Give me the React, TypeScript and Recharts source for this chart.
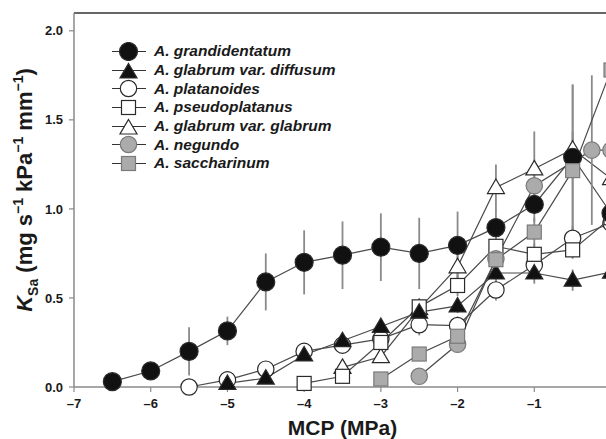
import React from "react";
import {
  ComposedChart,
  Line,
  XAxis,
  YAxis,
  ErrorBar,
  ReferenceLine,
  Legend,
} from "recharts";

const FONT = "'Liberation Sans', Arial, Helvetica, sans-serif";

// species, in legend order
const names = [
  "A. grandidentatum",
  "A. glabrum var. diffusum",
  "A. platanoides",
  "A. pseudoplatanus",
  "A. glabrum var. glabrum",
  "A. negundo",
  "A. saccharinum",
];

// MCP (MPa), K_Sa and error
const grandX = [-6.5, -6, -5.5, -5, -4.5, -4, -3.5, -3, -2.5, -2, -1.5, -1, -0.5, 0];
const grandY = [0.03, 0.09, 0.2, 0.315, 0.59, 0.7, 0.74, 0.785, 0.75, 0.795, 0.895, 1.025, 1.29, 0.975];
const grandE = [0, 0, 0.135, 0.08, 0.16, 0.18, 0.19, 0.19, 0.2, 0.19, 0.1, 0.1, 0.41, 0];

const diffX = [-5, -4.5, -4, -3.5, -3, -2.5, -2, -1.5, -1, -0.5, 0];
const diffY = [0.02, 0.05, 0.18, 0.26, 0.34, 0.42, 0.455, 0.64, 0.64, 0.6, 0.645];
const diffE = [0, 0, 0.02, 0.03, 0.03, 0.05, 0.04, 0.06, 0.06, 0.06, 0.05];

const platX = [-5.5, -5, -4.5, -4, -3.5, -3, -2.5, -2, -1.5, -1, -0.5, 0];
const platY = [0.0, 0.04, 0.1, 0.2, 0.235, 0.27, 0.35, 0.345, 0.545, 0.685, 0.835, 0.92];
const platE = [0, 0.02, 0.02, 0.03, 0.04, 0.05, 0.06, 0.05, 0.06, 0.05, 0.07, 0];

const pseuX = [-4, -3.5, -3, -2.5, -2, -1.5, -1, -0.5, 0];
const pseuY = [0.02, 0.06, 0.25, 0.45, 0.57, 0.79, 0.745, 0.77, 0.95];
const pseuE = [0, 0.02, 0.04, 0.05, 0.06, 0.08, 0.06, 0.05, 0];

const glabX = [-3.5, -3, -2.5, -2, -1.5, -1, -0.5, 0];
const glabY = [0.11, 0.17, 0.44, 0.675, 1.12, 1.225, 1.335, 1.17];
const glabE = [0.02, 0.03, 0.05, 0.08, 0.13, 0.21, 0.1, 0];

const neguX = [-2.5, -2, -1.5, -1, -0.25, 0];
const neguY = [0.06, 0.24, 0.72, 1.13, 1.33, 1.33];
const neguE = [0, 0.03, 0.05, 0.1, 0.42, 0];

const saccX = [-3, -2.5, -2, -1.5, -1, -0.5, 0];
const saccY = [0.045, 0.185, 0.285, 0.715, 0.87, 1.215, 1.78];
const saccE = [0, 0.02, 0.04, 0.06, 0.08, 0.48, 0.3];

const xTicks = [-7, -6, -5, -4, -3, -2, -1];
const yTicks = [0, 0.5, 1, 1.5, 2];

type Kind = "fc" | "ft" | "oc" | "os" | "ot" | "gc" | "gs";

const build = (xs: number[], ys: number[], es: number[]) =>
  xs.map((x, i) => ({ x, y: ys[i], e: es[i] }));

const series: { name: string; kind: Kind; data: { x: number; y: number; e: number }[] }[] = [
  { name: names[0], kind: "fc", data: build(grandX, grandY, grandE) },
  { name: names[1], kind: "ft", data: build(diffX, diffY, diffE) },
  { name: names[2], kind: "oc", data: build(platX, platY, platE) },
  { name: names[3], kind: "os", data: build(pseuX, pseuY, pseuE) },
  { name: names[4], kind: "ot", data: build(glabX, glabY, glabE) },
  { name: names[5], kind: "gc", data: build(neguX, neguY, neguE) },
  { name: names[6], kind: "gs", data: build(saccX, saccY, saccE) },
];

// paint order so the overlaps look like the figure
const drawOrder = [4, 2, 3, 1, 0, 5, 6];

function Marker({ cx, cy, kind }: { cx: number; cy: number; kind: Kind }) {
  if (cx == null || cy == null) return null;
  const fill =
    kind === "fc" || kind === "ft" ? "#111" : kind === "gc" || kind === "gs" ? "#ababab" : "#fff";
  const stroke = kind === "gc" || kind === "gs" ? "#7a7a7a" : "#2a2a2a";
  if (kind === "fc" || kind === "oc" || kind === "gc") {
    return <circle cx={cx} cy={cy} r={kind === "fc" ? 9 : 8.2} fill={fill} stroke={stroke} strokeWidth={1.2} />;
  }
  if (kind === "os" || kind === "gs") {
    return <rect x={cx - 7} y={cy - 7} width={14} height={14} fill={fill} stroke={stroke} strokeWidth={1.2} />;
  }
  return (
    <polygon
      points={`${cx},${cy - 8.5} ${cx + 8.5},${cy + 6} ${cx - 8.5},${cy + 6}`}
      fill={fill}
      stroke={stroke}
      strokeWidth={1.2}
    />
  );
}

function YLabel(props: any) {
  const vb = props.viewBox || { x: 0, y: 13, width: 74, height: 374 };
  const cx = vb.x + 32;
  const cy = vb.y + vb.height / 2 - 10;
  return (
    <text
      transform={`translate(${cx},${cy}) rotate(-90)`}
      textAnchor="middle"
      fontFamily={FONT}
      fontWeight="bold"
      fontSize={22}
      fill="#1a1a1a"
    >
      <tspan fontStyle="italic">K</tspan>
      <tspan fontSize={14} dy={6}>Sa</tspan>
      <tspan dy={-6}> (mg s</tspan>
      <tspan fontSize={14} dy={-9}>−1</tspan>
      <tspan dy={9}> kPa</tspan>
      <tspan fontSize={14} dy={-9}>−1</tspan>
      <tspan dy={9}> mm</tspan>
      <tspan fontSize={14} dy={-9}>−1</tspan>
      <tspan dy={9}>)</tspan>
    </text>
  );
}

function LegendBox() {
  return (
    <div style={{ fontFamily: FONT }}>
      {series.map((s) => (
        <div key={s.name} style={{ display: "flex", alignItems: "center", height: 18.7 }}>
          <svg width={36} height={19} style={{ display: "block" }}>
            <line x1={1} y1={9.5} x2={35} y2={9.5} stroke="#333" strokeWidth={1.2} />
            <Marker cx={17.5} cy={s.kind === "ft" || s.kind === "ot" ? 11 : 9.5} kind={s.kind} />
          </svg>
          <span
            style={{
              marginLeft: 7,
              fontSize: 15.5,
              fontWeight: "bold",
              fontStyle: "italic",
              color: "#1a1a1a",
              whiteSpace: "nowrap",
              lineHeight: "18px",
            }}
          >
            {s.name}
          </span>
        </div>
      ))}
    </div>
  );
}

const tickStyle = { fill: "#1a1a1a", fontSize: 13, fontWeight: "bold", fontFamily: FONT };
const fmtX = (v: number) => (v < 0 ? "\u2013" + Math.abs(v) : String(v));

export default function App() {
  return (
    <div
      style={{
        position: "absolute",
        left: 0,
        top: 0,
        width: 606,
        height: 439,
        overflow: "hidden",
        background: "#fff",
      }}
    >
      <ComposedChart width={630} height={439} margin={{ top: 13, right: 19, bottom: 0, left: 0 }}>
        <XAxis
          dataKey="x"
          type="number"
          domain={[-7, 0]}
          ticks={xTicks}
          tickFormatter={fmtX}
          tick={tickStyle}
          height={52}
          tickSize={5}
          tickMargin={7}
          axisLine={{ stroke: "#8a8a8a", strokeWidth: 1.5 }}
          tickLine={{ stroke: "#8a8a8a", strokeWidth: 1.2 }}
          label={{
            value: "MCP (MPa)",
            position: "insideBottom",
            offset: 4,
            style: { fontFamily: FONT, fontWeight: "bold", fontSize: 21, fill: "#1a1a1a" },
          }}
        />
        <YAxis
          dataKey="y"
          type="number"
          domain={[0, 2.1]}
          ticks={yTicks}
          tickFormatter={(v: number) => v.toFixed(1)}
          tick={tickStyle}
          width={74}
          tickSize={5}
          tickMargin={6}
          axisLine={{ stroke: "#8a8a8a", strokeWidth: 1.5 }}
          tickLine={{ stroke: "#8a8a8a", strokeWidth: 1.2 }}
          label={<YLabel />}
        />
        <ReferenceLine y={2.1} stroke="#333" strokeWidth={1.4} />
        {drawOrder.map((i) => {
          const s = series[i];
          return (
            <Line
              key={s.name}
              name={s.name}
              data={s.data}
              dataKey="y"
              type="linear"
              stroke="#4a4a4a"
              strokeWidth={1.2}
              isAnimationActive={false}
              dot={(p: any) => <Marker key={`${s.kind}-${p.index}`} cx={p.cx} cy={p.cy} kind={s.kind} />}
              activeDot={false}
            >
              <ErrorBar dataKey="e" width={0} stroke="#8a8a8a" strokeWidth={1.8} direction="y" />
            </Line>
          );
        })}
        <Legend
          layout="vertical"
          align="center"
          verticalAlign="middle"
          content={() => <LegendBox />}
          wrapperStyle={{ left: 111, top: 42, width: "auto", height: "auto" }}
        />
      </ComposedChart>
    </div>
  );
}
